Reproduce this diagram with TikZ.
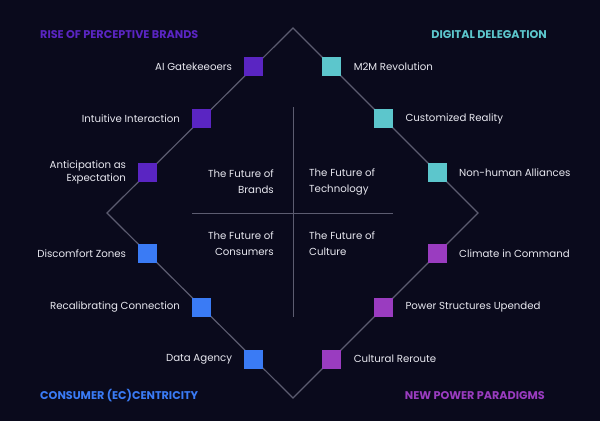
\documentclass[tikz,border=0pt]{standalone}
\usepackage{fontspec}
\setmainfont{Poppins}
\usetikzlibrary{calc,positioning}
\definecolor{bgcol}{HTML}{0A0A1C}
\definecolor{linecol}{HTML}{5C5C70}
\definecolor{brandcol}{HTML}{5A25C2}
\definecolor{techcol}{HTML}{5CC6CC}
\definecolor{conscol}{HTML}{3A7BF5}
\definecolor{cultcol}{HTML}{9A3CC0}
\definecolor{txtcol}{HTML}{E8E8F0}
\begin{document}
\begin{tikzpicture}[x=1pt,y=-1pt,node distance=12pt,
                    trend/.style={rectangle,minimum size=19pt,inner sep=0pt,fill=#1},
                    trendtext/.style={text=txtcol,font=\fontsize{10.2}{12.6}\selectfont,inner sep=0pt},
                    quadtext/.style={text=txtcol,font=\fontsize{10.2}{16}\selectfont,inner sep=0pt},
                    headtext/.style={text=#1,font=\fontsize{11.2}{12}\selectfont\bfseries,inner sep=0pt}]

 \fill[bgcol] (0,0) rectangle (600,421);

 % diamond and cross
 \coordinate (top) at (293,28);
 \coordinate (left) at (107,213);
 \coordinate (bottom) at (293,398);
 \coordinate (right) at (478,213);
 \draw[linecol,line width=1.2pt] (top) -- (right) -- (bottom) -- (left) -- cycle;
 \draw[linecol,line width=1pt] (293,107) -- (293,317);
 \draw[linecol,line width=1pt] (192,213) -- (393,213);

 % brands
 \node[trend=brandcol] (b1) at ($(top)!0.21!(left)$) {};
 \node[trend=brandcol] (b2) at ($(top)!0.49!(left)$) {};
 \node[trend=brandcol] (b3) at ($(top)!0.78!(left)$) {};
 \node[trendtext,left=of b1] {AI Gatekeeoers};
 \node[trendtext,left=of b2] {Intuitive Interaction};
 \node[trendtext,left=of b3,align=right] {Anticipation as\\Expectation};

 % technology
 \node[trend=techcol] (t1) at ($(top)!0.21!(right)$) {};
 \node[trend=techcol] (t2) at ($(top)!0.49!(right)$) {};
 \node[trend=techcol] (t3) at ($(top)!0.78!(right)$) {};
 \node[trendtext,right=of t1] {M2M Revolution};
 \node[trendtext,right=of t2] {Customized Reality};
 \node[trendtext,right=of t3] {Non-human Alliances};

 % consumers
 \node[trend=conscol] (c1) at ($(bottom)!0.78!(left)$) {};
 \node[trend=conscol] (c2) at ($(bottom)!0.49!(left)$) {};
 \node[trend=conscol] (c3) at ($(bottom)!0.21!(left)$) {};
 \node[trendtext,left=of c1] {Discomfort Zones};
 \node[trendtext,left=of c2] {Recalibrating Connection};
 \node[trendtext,left=of c3] {Data Agency};

 % culture
 \node[trend=cultcol] (u1) at ($(bottom)!0.78!(right)$) {};
 \node[trend=cultcol] (u2) at ($(bottom)!0.49!(right)$) {};
 \node[trend=cultcol] (u3) at ($(bottom)!0.21!(right)$) {};
 \node[trendtext,right=of u1] {Climate in Command};
 \node[trendtext,right=of u2] {Power Structures Upended};
 \node[trendtext,right=of u3] {Cultural Reroute};

 % quadrants
 \node[quadtext,anchor=east,align=right] (qb) at (274,182) {The Future of\\Brands};
 \node[quadtext,anchor=west,align=left] (qt) at (309,182) {The Future of\\Technology};
 \node[quadtext,anchor=east,align=right] (qc) at (274,244) {The Future of\\Consumers};
 \node[quadtext,anchor=west,align=left] (qu) at (309,244) {The Future of\\Culture};

 % headings
 \node[headtext=brandcol,anchor=west] (hb) at (40,35) {RISE OF PERCEPTIVE BRANDS};
 \node[headtext=techcol,anchor=east] (ht) at (547,35) {DIGITAL DELEGATION};
 \node[headtext=conscol,anchor=west] (hc) at (40,396) {CONSUMER (EC)CENTRICITY};
 \node[headtext=cultcol,anchor=east] (hu) at (545,396) {NEW POWER PARADIGMS};

\end{tikzpicture}
\end{document}
